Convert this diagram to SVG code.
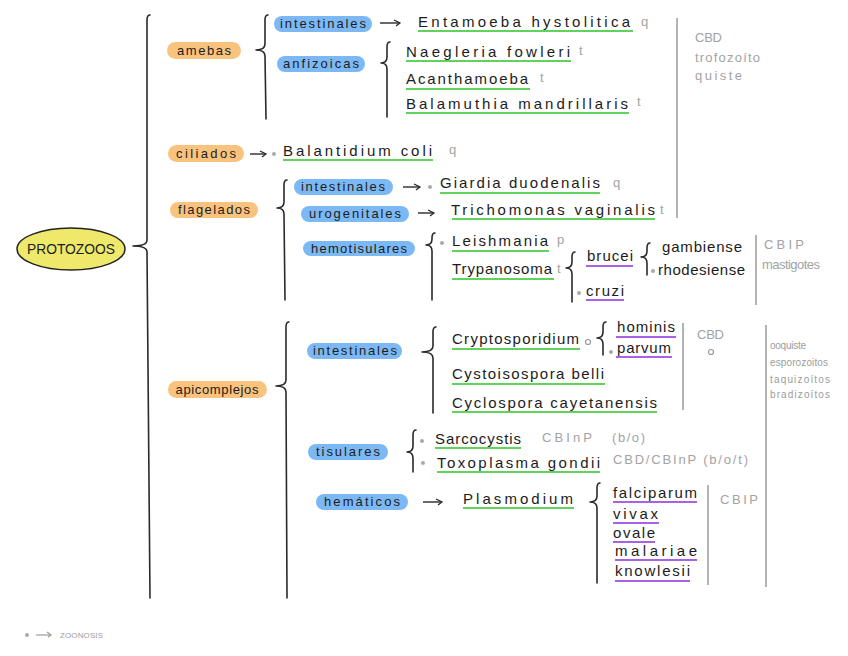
<svg xmlns="http://www.w3.org/2000/svg" width="848" height="656" viewBox="0 0 848 656">
<defs>
<style>
.t{font-family:"Liberation Sans",Arial,sans-serif;font-size:15px;fill:#1c1c1c}
.l{font-family:"Liberation Sans",Arial,sans-serif;font-size:13px;fill:#1c1c1c}
.g{font-family:"Liberation Sans",Arial,sans-serif;font-size:13px;fill:#a3a3a3}
.gs{font-family:"Liberation Sans",Arial,sans-serif;font-size:10px;fill:#9c9c9c}
.pb{fill:#7cb9f4}
.po{fill:#f9c37e}
.ug{stroke:#5fd35a;stroke-width:2}
.up{stroke:#a962e6;stroke-width:2}
.br{fill:none;stroke:#2a2a2a;stroke-width:1.6;stroke-linecap:round;stroke-linejoin:round}
.gl{stroke:#b3b3b3;stroke-width:2}
.ar{fill:none;stroke:#2a2a2a;stroke-width:1.4;marker-end:url(#ah)}
.dt{fill:#a8a8a8}
.oc{fill:none;stroke:#9a9a9a;stroke-width:1.2}
</style>
<marker id="ah" viewBox="0 0 8 8" refX="7" refY="4" markerWidth="8" markerHeight="8" markerUnits="userSpaceOnUse" orient="auto"><path d="M1,1 L7,4 L3,7" fill="none" stroke="#2a2a2a" stroke-width="1.3"/></marker>
</defs>
<rect width="848" height="656" fill="#ffffff"/>

<g id="connectors">
<path class="br" d="M150,15 Q147,15 147,20 L147,240 Q147,246 133,246 Q147,246 147,252 L150,598"/>
<path class="br" d="M268,15 Q265,15 265,20 L265,44 Q265,50 256,50 Q265,50 265,56 L266,119"/>
<path class="br" d="M390,42 Q387,42 387,47 L387,57 Q387,63 381,63 Q387,63 387,69 L387,117"/>
<path class="br" d="M287,180 Q284,180 284,185 L284,202 Q284,208 277,208 Q284,208 284,214 L285,300"/>
<path class="br" d="M435,233 Q432,233 432,238 L432,239 Q432,245 426,245 Q432,245 432,251 L432,300"/>
<path class="br" d="M575,252 Q572,252 572,257 L572,262 Q572,268 566,268 Q572,268 572,274 L572,302"/>
<path class="br" d="M650,243 Q647,243 647,248 L647,251 Q647,257 641,257 Q647,257 647,263 L647,275"/>
<path class="br" d="M289,322 Q286,322 286,327 L286,380 Q286,386 276,386 Q286,386 286,392 L287,598"/>
<path class="br" d="M436,327 Q433,327 433,332 L433,346 Q433,352 422,352 Q433,352 433,358 L433,413"/>
<path class="br" d="M606,322 Q603,322 603,327 L603,332 Q603,338 597,338 Q603,338 603,344 L603,355"/>
<path class="br" d="M416,430 Q413,430 413,435 L413,446 Q413,452 407,452 Q413,452 413,458 L413,472"/>
<path class="br" d="M600,483 Q597,483 597,488 L597,496 Q597,502 590,502 Q597,502 597,508 L597,583"/>
<line class="ar" x1="380" y1="23" x2="400" y2="23"/>
<line class="ar" x1="250" y1="154" x2="266" y2="154"/>
<line class="ar" x1="403" y1="187" x2="420" y2="187"/>
<line class="ar" x1="418" y1="213" x2="434" y2="213"/>
<line class="ar" x1="423" y1="502" x2="442" y2="502"/>
<line class="gl" x1="677" y1="18" x2="677" y2="218"/>
<line class="gl" x1="756" y1="235" x2="756" y2="305"/>
<line class="gl" x1="683" y1="323" x2="683" y2="410"/>
<line class="gl" x1="766" y1="325" x2="766" y2="587"/>
<line class="gl" x1="708" y1="485" x2="708" y2="585"/>
</g>

<g id="root">
<ellipse cx="71" cy="249" rx="54" ry="21" fill="#eee86b" stroke="#222" stroke-width="1.5"/>
<text class="t" x="71" y="254" text-anchor="middle" textLength="88" lengthAdjust="spacingAndGlyphs">PROTOZOOS</text>
</g>

<g id="amebas"><rect class="po" x="167" y="42" width="74" height="17" rx="8.5"/><text class="l" x="204" y="55" text-anchor="middle" textLength="54">amebas</text></g>
<g id="amebas-intestinales"><rect class="pb" x="274" y="16" width="98" height="16" rx="8"/><text class="l" x="323" y="28" text-anchor="middle" textLength="86">intestinales</text></g>
<g id="anfizoicas"><rect class="pb" x="277" y="56" width="88" height="16" rx="8"/><text class="l" x="321" y="68" text-anchor="middle" textLength="76">anfizoicas</text></g>
<g id="entamoeba"><text class="t" x="418" y="27" textLength="212">Entamoeba hystolitica</text><line class="ug" x1="418" y1="31" x2="633" y2="31"/><text class="g" x="641" y="26">q</text></g>
<g id="naegleria"><text class="t" x="406" y="57" textLength="164">Naegleria fowleri</text><line class="ug" x1="406" y1="61" x2="571" y2="61"/><text class="g" x="579" y="55">t</text></g>
<g id="acanthamoeba"><text class="t" x="406" y="84" textLength="122">Acanthamoeba</text><line class="ug" x1="406" y1="89" x2="530" y2="89"/><text class="g" x="540" y="82">t</text></g>
<g id="balamuthia"><text class="t" x="406" y="109" textLength="222">Balamuthia mandrillaris</text><line class="ug" x1="406" y1="113" x2="629" y2="113"/><text class="g" x="637" y="106">t</text></g>
<g id="note-amebas"><text class="g" x="695" y="42" textLength="27">CBD</text><text class="g" x="695" y="62" textLength="65">trofozoíto</text><text class="g" x="695" y="80" textLength="47">quiste</text></g>

<g id="ciliados"><rect class="po" x="168" y="145" width="76" height="17" rx="8.5"/><text class="l" x="206" y="158" text-anchor="middle" textLength="60">ciliados</text></g>
<g id="balantidium"><circle class="dt" cx="274" cy="154" r="2"/><text class="t" x="283" y="156" textLength="149">Balantidium coli</text><line class="ug" x1="283" y1="160" x2="433" y2="160"/><text class="g" x="449" y="154">q</text></g>

<g id="flagelados"><rect class="po" x="170" y="202" width="88" height="16" rx="8"/><text class="l" x="214" y="214" text-anchor="middle" textLength="72">flagelados</text></g>
<g id="flag-intestinales"><rect class="pb" x="294" y="179" width="99" height="16" rx="8"/><text class="l" x="343" y="191" text-anchor="middle" textLength="84">intestinales</text></g>
<g id="giardia"><circle class="dt" cx="430" cy="187" r="2"/><text class="t" x="440" y="188" textLength="160">Giardia duodenalis</text><line class="ug" x1="440" y1="193" x2="600" y2="193"/><text class="g" x="613" y="187">q</text></g>
<g id="urogenitales"><rect class="pb" x="301" y="206" width="108" height="16" rx="8"/><text class="l" x="355" y="218" text-anchor="middle" textLength="92">urogenitales</text></g>
<g id="trichomonas"><text class="t" x="451" y="215" textLength="204">Trichomonas vaginalis</text><line class="ug" x1="452" y1="219" x2="655" y2="219"/><text class="g" x="660" y="214">t</text></g>
<g id="hemotisulares"><rect class="pb" x="303" y="241" width="112" height="15" rx="7.5"/><text class="l" x="359" y="253" text-anchor="middle" textLength="96">hemotisulares</text></g>
<g id="leishmania"><circle class="dt" cx="442" cy="243" r="2"/><text class="t" x="452" y="246" textLength="96">Leishmania</text><line class="ug" x1="452" y1="251" x2="549" y2="251"/><text class="g" x="557" y="244">p</text></g>
<g id="trypanosoma"><text class="t" x="452" y="274" textLength="100">Trypanosoma</text><line class="ug" x1="452" y1="279" x2="554" y2="279"/><text class="g" x="557" y="273">t</text></g>
<g id="brucei"><text class="t" x="587" y="261" textLength="46">brucei</text><line class="up" x1="586" y1="266" x2="633" y2="266"/></g>
<g id="gambiense"><text class="t" x="662" y="252" textLength="80">gambiense</text></g>
<g id="rhodesiense"><circle class="dt" cx="653" cy="271" r="2"/><text class="t" x="658" y="275" textLength="87">rhodesiense</text></g>
<g id="cruzi"><circle class="dt" cx="579" cy="293" r="2"/><text class="t" x="586" y="296" textLength="38">cruzi</text><line class="up" x1="586" y1="300" x2="624" y2="300"/></g>
<g id="note-trypanosoma"><text class="g" x="764" y="249" textLength="40">CBIP</text><text class="g" x="762" y="269" textLength="58">mastigotes</text></g>

<g id="apicomplejos"><rect class="po" x="168" y="381" width="99" height="17" rx="8.5"/><text class="l" x="217" y="394" text-anchor="middle" textLength="83">apicomplejos</text></g>
<g id="api-intestinales"><rect class="pb" x="307" y="343" width="95" height="16" rx="8"/><text class="l" x="355" y="355" text-anchor="middle" textLength="84">intestinales</text></g>
<g id="cryptosporidium"><text class="t" x="452" y="344" textLength="127">Cryptosporidium</text><line class="ug" x1="452" y1="349" x2="580" y2="349"/><circle class="oc" cx="588" cy="342" r="2.5"/></g>
<g id="hominis"><text class="t" x="617" y="332" textLength="58">hominis</text><line class="up" x1="616" y1="337" x2="676" y2="337"/></g>
<g id="parvum"><circle class="dt" cx="611" cy="352" r="2"/><text class="t" x="617" y="353" textLength="54">parvum</text><line class="up" x1="616" y1="357" x2="672" y2="357"/></g>
<g id="note-crypto"><text class="g" x="697" y="339" textLength="27">CBD</text><circle class="oc" cx="711" cy="352" r="2.5"/></g>
<g id="note-apicomplejos"><text class="gs" x="770" y="349" textLength="36">ooquiste</text><text class="gs" x="770" y="366" textLength="58">esporozoitos</text><text class="gs" x="770" y="383" textLength="60">taquizoítos</text><text class="gs" x="770" y="398" textLength="60">bradizoítos</text></g>
<g id="cystoisospora"><text class="t" x="452" y="379" textLength="152">Cystoisospora belli</text><line class="ug" x1="452" y1="384" x2="605" y2="384"/></g>
<g id="cyclospora"><text class="t" x="452" y="408" textLength="205">Cyclospora cayetanensis</text><line class="ug" x1="452" y1="412" x2="657" y2="412"/></g>
<g id="tisulares"><rect class="pb" x="308" y="444" width="80" height="16" rx="8"/><text class="l" x="348" y="456" text-anchor="middle" textLength="64">tisulares</text></g>
<g id="sarcocystis"><circle class="dt" cx="422" cy="441" r="2"/><text class="t" x="435" y="444" textLength="86">Sarcocystis</text><line class="ug" x1="435" y1="448" x2="521" y2="448"/><text class="g" x="542" y="442" textLength="50">CBInP</text><text class="g" x="612" y="442" textLength="33">(b/o)</text></g>
<g id="toxoplasma"><circle class="dt" cx="423" cy="463" r="2"/><text class="t" x="437" y="468" textLength="163">Toxoplasma gondii</text><line class="ug" x1="437" y1="472" x2="600" y2="472"/><text class="g" x="613" y="464" textLength="135">CBD/CBInP (b/o/t)</text></g>
<g id="hematicos"><rect class="pb" x="316" y="494" width="92" height="16" rx="8"/><text class="l" x="362" y="506" text-anchor="middle" textLength="76">hemáticos</text></g>
<g id="plasmodium"><text class="t" x="463" y="504" textLength="110">Plasmodium</text><line class="ug" x1="463" y1="508" x2="574" y2="508"/></g>
<g id="falciparum"><text class="t" x="613" y="498" textLength="84">falciparum</text><line class="up" x1="613" y1="502" x2="697" y2="502"/></g>
<g id="vivax"><text class="t" x="613" y="519" textLength="45">vivax</text><line class="up" x1="613" y1="523" x2="659" y2="523"/></g>
<g id="ovale"><text class="t" x="613" y="538" textLength="42">ovale</text><line class="up" x1="613" y1="542" x2="655" y2="542"/></g>
<g id="malariae"><text class="t" x="615" y="556" textLength="82">malariae</text><line class="up" x1="615" y1="560" x2="697" y2="560"/></g>
<g id="knowlesii"><text class="t" x="615" y="576" textLength="75">knowlesii</text><line class="up" x1="615" y1="581" x2="690" y2="581"/></g>
<g id="note-plasmodium"><text class="g" x="720" y="504" textLength="38">CBIP</text></g>

<g id="legend"><circle class="dt" cx="27" cy="635" r="2"/><line x1="36" y1="635" x2="51" y2="635" stroke="#9c9c9c" stroke-width="1.2"/><path d="M47,632 L51,635 L48,637" fill="none" stroke="#9c9c9c" stroke-width="1.2"/><text class="gs" x="60" y="638" style="font-size:8px" textLength="43">ZOONOSIS</text></g>
</svg>
